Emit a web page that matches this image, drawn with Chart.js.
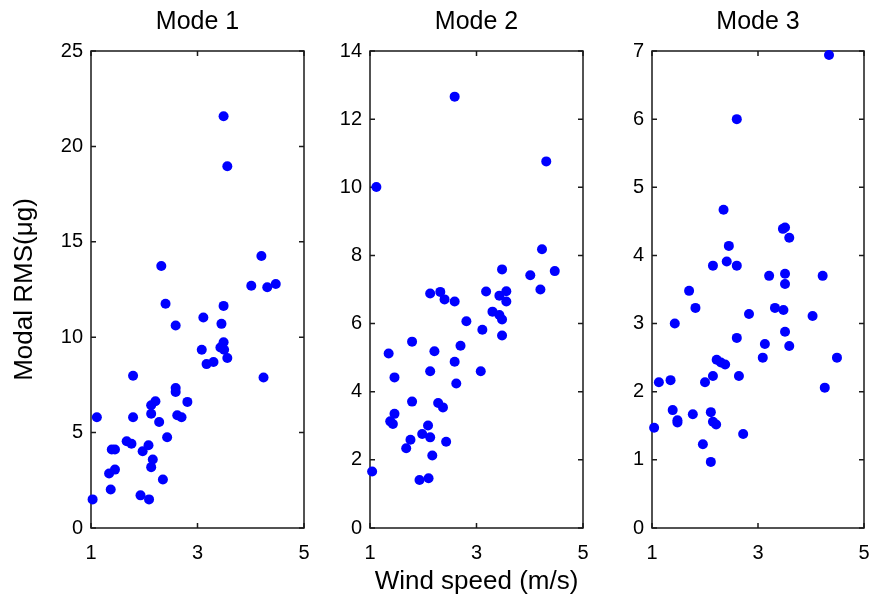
<!DOCTYPE html>
<html>
<head>
<meta charset="utf-8">
<script src="https://cdn.jsdelivr.net/npm/chart.js@4/dist/chart.umd.min.js"></script>
<style>
  html, body { margin: 0; padding: 0; background: #fff; }
  #wrap { position: relative; width: 872px; height: 601px; overflow: hidden; }
  #wrap canvas { position: absolute; top: 0; }
</style>
</head>
<body>
<div id="wrap">
  <canvas id="c1"></canvas>
  <canvas id="c2"></canvas>
  <canvas id="c3"></canvas>
</div>
<script>
// data
const modeTitles = ["Mode 1", "Mode 2", "Mode 3"];
const windTicks = [1, 3, 5];
const yMax = [25, 14, 7];
const yStep = [5, 2, 1];

const mode1Wind = [3.49, 3.56, 4.20, 2.32, 4.01, 4.31, 4.47, 2.40, 3.49, 2.59, 3.11, 3.45, 3.49, 3.43, 3.50, 3.08, 3.56, 3.17, 3.30, 4.24, 1.79, 2.59, 2.59, 2.81, 2.21, 2.13, 2.13, 1.11, 1.79, 2.62, 2.70, 2.28, 2.43, 1.67, 1.76, 2.08, 1.39, 1.45, 1.97, 2.16, 2.13, 1.45, 1.34, 2.35, 1.37, 1.93, 2.09, 1.03];
const mode1Rms = [21.58, 18.96, 14.26, 13.73, 12.70, 12.62, 12.79, 11.75, 11.64, 10.61, 11.03, 10.70, 9.74, 9.46, 9.34, 9.34, 8.91, 8.59, 8.70, 7.89, 7.98, 7.34, 7.13, 6.61, 6.64, 6.43, 5.99, 5.80, 5.80, 5.91, 5.80, 5.56, 4.76, 4.55, 4.42, 4.34, 4.11, 4.11, 4.02, 3.59, 3.19, 3.06, 2.86, 2.54, 2.02, 1.71, 1.50, 1.50];

const mode2Wind = [2.59, 4.31, 1.12, 4.23, 3.48, 4.01, 4.47, 4.20, 2.13, 2.32, 2.40, 2.59, 3.18, 3.43, 3.56, 3.56, 3.30, 3.43, 3.48, 2.81, 3.11, 3.48, 1.79, 2.70, 2.21, 1.35, 2.59, 2.13, 3.08, 1.46, 2.62, 1.79, 2.28, 2.37, 1.46, 1.38, 1.43, 2.09, 1.98, 2.13, 1.76, 2.43, 1.68, 2.17, 1.04, 1.93, 2.10];
const mode2Rms = [12.66, 10.76, 10.01, 8.18, 7.59, 7.42, 7.54, 7.00, 6.88, 6.93, 6.71, 6.65, 6.94, 6.82, 6.95, 6.65, 6.35, 6.25, 6.12, 6.07, 5.82, 5.65, 5.47, 5.35, 5.19, 5.12, 4.88, 4.60, 4.60, 4.42, 4.24, 3.71, 3.67, 3.54, 3.35, 3.13, 3.05, 3.01, 2.76, 2.66, 2.59, 2.53, 2.34, 2.13, 1.66, 1.41, 1.46];

const mode3Wind = [4.34, 2.60, 2.35, 3.47, 3.51, 3.59, 2.45, 2.15, 2.41, 2.60, 3.21, 3.51, 3.51, 4.22, 1.70, 1.82, 3.32, 3.48, 2.83, 4.03, 1.43, 3.51, 2.60, 3.13, 3.59, 3.09, 4.49, 2.22, 2.30, 2.38, 2.15, 2.64, 2.00, 1.13, 1.35, 4.26, 1.39, 1.48, 1.48, 1.77, 2.11, 2.15, 2.21, 1.04, 2.72, 1.96, 2.11];
const mode3Rms = [6.94, 6.00, 4.67, 4.39, 4.41, 4.26, 4.14, 3.85, 3.91, 3.85, 3.70, 3.73, 3.58, 3.70, 3.48, 3.23, 3.23, 3.20, 3.14, 3.11, 3.00, 2.88, 2.79, 2.70, 2.67, 2.50, 2.50, 2.47, 2.43, 2.40, 2.23, 2.23, 2.14, 2.14, 2.17, 2.06, 1.73, 1.58, 1.55, 1.67, 1.70, 1.56, 1.52, 1.47, 1.38, 1.23, 0.97];

const winds = [mode1Wind, mode2Wind, mode3Wind];
const rmss = [mode1Rms, mode2Rms, mode3Rms];

// layout of each panel
const panels = [
  { canvasLeft: 0, yWidth: 91, plotWidth: 213, rightPad: 12 },
  { canvasLeft: 310, yWidth: 60, plotWidth: 213, rightPad: 12 },
  { canvasLeft: 592, yWidth: 60, plotWidth: 212, rightPad: 8 },
];
const H = 601;
const plotBottom = 528;
const font = "'Liberation Sans', Arial, Helvetica, sans-serif";

// matlab style box with inward ticks
const boxPlugin = {
  id: "matlabBox",
  beforeDatasetsDraw(chart) {
    const { ctx, chartArea: a, scales } = chart;
    const len = 5;
    ctx.save();
    ctx.strokeStyle = "#1a1a1a";
    ctx.lineWidth = 1.5;
    ctx.strokeRect(a.left, a.top, a.right - a.left, a.bottom - a.top);
    ctx.beginPath();
    scales.y.ticks.forEach((t) => {
      const py = scales.y.getPixelForValue(t.value);
      ctx.moveTo(a.left, py); ctx.lineTo(a.left + len, py);
      ctx.moveTo(a.right, py); ctx.lineTo(a.right - len, py);
    });
    scales.x.ticks.forEach((t) => {
      const px = scales.x.getPixelForValue(t.value);
      ctx.moveTo(px, a.bottom); ctx.lineTo(px, a.bottom - len);
      ctx.moveTo(px, a.top); ctx.lineTo(px, a.top + len);
    });
    ctx.stroke();
    ctx.restore();
  },
};

panels.forEach((p, i) => {
  const canvas = document.getElementById("c" + (i + 1));
  const w = p.yWidth + p.plotWidth + p.rightPad;
  canvas.style.left = p.canvasLeft + "px";
  canvas.width = w;
  canvas.height = H;
  canvas.style.width = w + "px";
  canvas.style.height = H + "px";

  const points = winds[i].map((x, k) => ({ x: x, y: rmss[i][k] }));

  new Chart(canvas, {
    type: "scatter",
    data: {
      datasets: [
        {
          data: points,
          backgroundColor: "#0000ff",
          borderColor: "#0000ff",
          borderWidth: 0,
          pointRadius: 5,
          pointHoverRadius: 5,
          clip: false,
        },
      ],
    },
    options: {
      responsive: false,
      animation: false,
      events: [],
      layout: { padding: { left: 0, right: p.rightPad, top: 0, bottom: 0 } },
      plugins: {
        legend: { display: false },
        tooltip: { enabled: false },
        title: {
          display: true,
          text: modeTitles[i],
          fullSize: false,
          color: "#000",
          font: { family: font, size: 25, weight: "normal" },
          padding: { top: 7, bottom: 14 },
        },
      },
      scales: {
        x: {
          type: "linear",
          min: 1,
          max: 5,
          afterBuildTicks: (s) => { s.ticks = windTicks.map((v) => ({ value: v })); },
          afterFit: (s) => { s.height = H - plotBottom; s.paddingLeft = 0; s.paddingRight = 0; },
          grid: { display: false, drawTicks: false },
          border: { display: false },
          ticks: { color: "#000", padding: 13, font: { family: font, size: 20 } },
          title: {
            display: i === 1,
            text: "Wind speed (m/s)",
            color: "#000",
            font: { family: font, size: 26 },
            padding: { top: 0, bottom: 3.5 },
          },
        },
        y: {
          type: "linear",
          min: 0,
          max: yMax[i],
          afterFit: (s) => { s.width = p.yWidth; s.paddingTop = 0; s.paddingBottom = 0; },
          grid: { display: false, drawTicks: false },
          border: { display: false },
          ticks: { stepSize: yStep[i], color: "#000", padding: 8, font: { family: font, size: 20 } },
          title: {
            display: i === 0,
            text: "Modal RMS(μg)",
            color: "#000",
            font: { family: font, size: 26 },
            padding: { top: 9.5, bottom: 0 },
          },
        },
      },
    },
    plugins: [boxPlugin],
  });
});
</script>
</body>
</html>
